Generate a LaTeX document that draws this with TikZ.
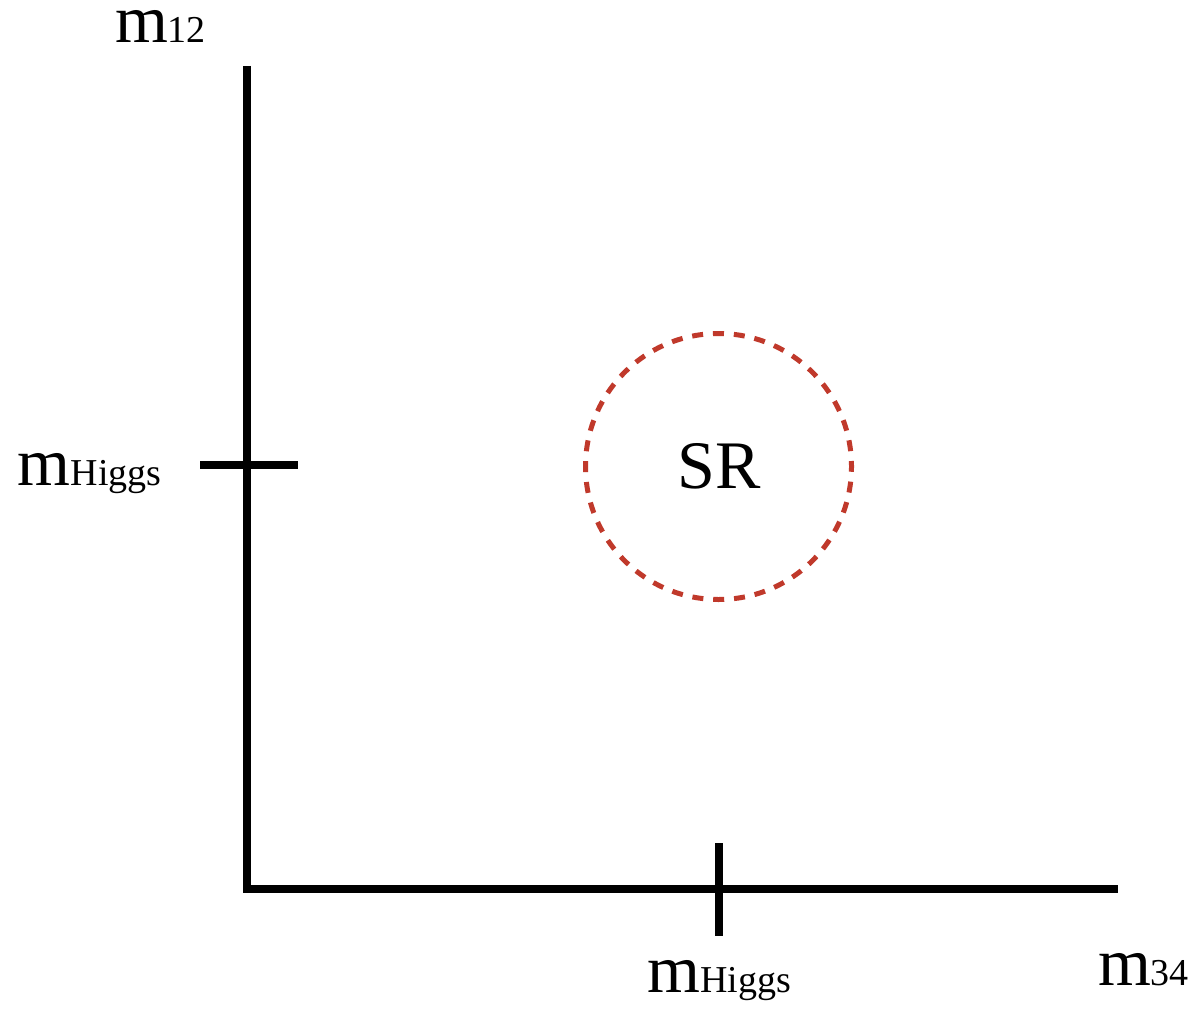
\documentclass[tikz,border=0pt]{standalone}
\usepackage{fontspec}
\setmainfont{Liberation Serif}
\definecolor{srred}{RGB}{192,57,43}
\newcommand{\mbigletter}{\fontsize{34}{40}\selectfont m}
\newcommand{\msubtxt}[1]{\fontsize{19}{22}\selectfont #1}
\begin{document}
\begin{tikzpicture}[x=1pt,y=1pt,
  axisline/.style={line width=4pt,line join=miter,line cap=butt,black},
  tickline/.style={line width=4pt,line cap=butt,black},
  lbl/.style={inner sep=0pt,outer sep=0pt},
  srcircle/.style={circle,draw=srred,line width=2.5pt,minimum size=133pt,inner sep=0pt,
    dash pattern=on 5.5pt off 4.95pt,dash phase=2.75pt}]
\useasboundingbox (0,0) rectangle (601,507);
% axes
\coordinate (ytop) at (123.5,474);
\coordinate (origin) at (123.5,62.5);
\coordinate (xend) at (559,62.5);
\draw[axisline] (ytop) -- (origin) -- (xend);
% ticks
\coordinate (ytickL) at (100,274.75);
\coordinate (ytickR) at (149,274.75);
\coordinate (xtickT) at (359.25,85.5);
\coordinate (xtickB) at (359.25,39);
\draw[tickline] (ytickL) -- (ytickR);
\draw[tickline] (xtickT) -- (xtickB);
% signal region
\node[srcircle] (sr) at (359.25,273.75) {};
\node[lbl,anchor=base] (srlabel) at (359.5,263) {\fontsize{34}{40}\selectfont SR};
% labels
\node[lbl,anchor=base west] (m12) at (57.5,485.5) {\mbigletter\msubtxt{12}};
\node[lbl,anchor=base west] (mhy) at (9,264.15) {\mbigletter\msubtxt{Higgs}};
\node[lbl,anchor=base] (mhx) at (359.5,11) {\mbigletter\msubtxt{Higgs}};
\node[lbl,anchor=base west] (m34) at (549,14.5) {\mbigletter\msubtxt{34}};
\end{tikzpicture}
\end{document}
